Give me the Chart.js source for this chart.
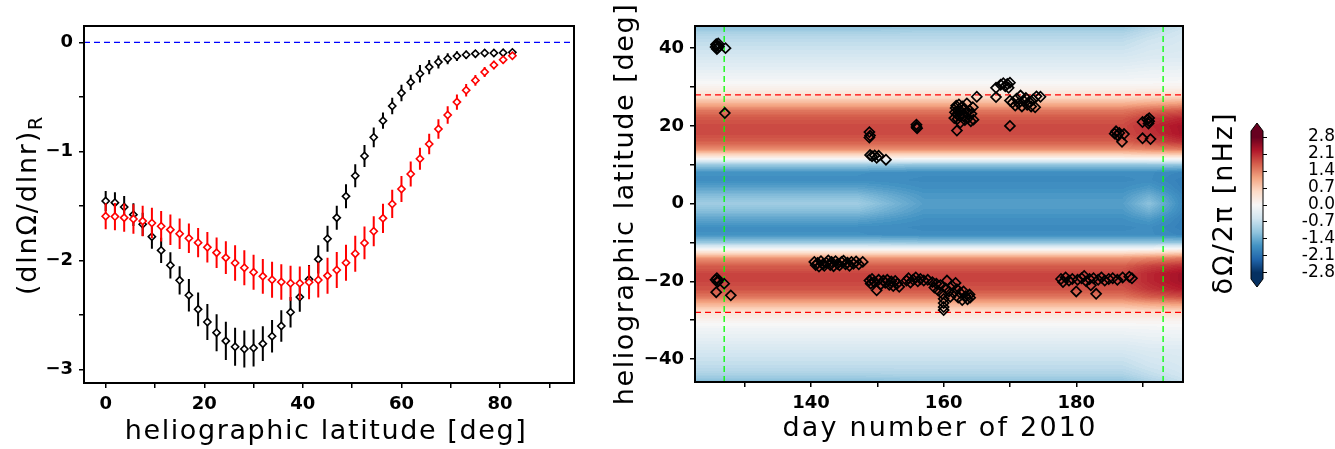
<!DOCTYPE html>
<html><head><meta charset="utf-8">
<script src="https://cdn.jsdelivr.net/npm/chart.js@4/dist/chart.umd.min.js"></script>
<style>
body{margin:0;background:#fff;width:1335px;height:449px;overflow:hidden;position:relative}
canvas{position:absolute;top:0}
</style></head><body>
<canvas id="c1" width="600" height="449" style="left:0"></canvas>
<canvas id="c2" width="600" height="449" style="left:600px"></canvas>
<canvas id="c3" width="135" height="449" style="left:1200px"></canvas>
<script>
// ---------- left panel data ----------
const latBins = [0,1.875,3.75,5.625,7.5,9.375,11.25,13.125,15,16.875,18.75,20.625,22.5,24.375,26.25,28.125,30,31.875,33.75,35.625,37.5,39.375,41.25,43.125,45,46.875,48.75,50.625,52.5,54.375,56.25,58.125,60,61.875,63.75,65.625,67.5,69.375,71.25,73.125,75,76.875,78.75,80.625,82.5];
const blackVals = [-1.456,-1.471,-1.511,-1.581,-1.670,-1.783,-1.909,-2.046,-2.184,-2.321,-2.450,-2.566,-2.664,-2.740,-2.793,-2.814,-2.805,-2.765,-2.697,-2.603,-2.477,-2.337,-2.174,-1.991,-1.802,-1.609,-1.413,-1.224,-1.043,-0.872,-0.719,-0.584,-0.465,-0.367,-0.288,-0.227,-0.181,-0.150,-0.126,-0.114,-0.104,-0.098,-0.098,-0.095,-0.092];
const blackErrs = [0.092,0.095,0.10,0.105,0.107,0.11,0.115,0.12,0.13,0.15,0.155,0.165,0.17,0.175,0.175,0.17,0.17,0.16,0.15,0.145,0.14,0.135,0.13,0.13,0.12,0.11,0.11,0.105,0.10,0.09,0.075,0.075,0.075,0.07,0.08,0.065,0.06,0.05,0.045,0.037,0.033,0.03,0.027,0.025,0.02];
const redVals = [-1.596,-1.599,-1.609,-1.621,-1.640,-1.658,-1.688,-1.719,-1.756,-1.798,-1.838,-1.881,-1.930,-1.976,-2.025,-2.068,-2.110,-2.147,-2.178,-2.199,-2.211,-2.211,-2.202,-2.181,-2.141,-2.089,-2.022,-1.939,-1.841,-1.734,-1.615,-1.483,-1.346,-1.208,-1.068,-0.933,-0.795,-0.667,-0.548,-0.440,-0.349,-0.272,-0.208,-0.160,-0.123];
const redErrs = [0.12,0.125,0.13,0.135,0.14,0.14,0.14,0.14,0.14,0.135,0.135,0.14,0.14,0.15,0.163,0.16,0.16,0.16,0.165,0.163,0.16,0.153,0.155,0.16,0.165,0.165,0.165,0.165,0.15,0.138,0.135,0.13,0.12,0.115,0.10,0.095,0.09,0.08,0.07,0.058,0.05,0.045,0.04,0.035,0.03];

// ---------- right panel data ----------
const fieldLats = [-46,-44,-42,-40,-38,-36,-34,-32,-30,-28,-26,-24,-22,-20,-18,-16,-14,-12,-10,-8,-6,-4,-2,0,2,4,6,8,10,12,14,16,18,20,22,24,26,28,30,32,34,36,38,40,42,44,46];
const profEarly = [-1.25,-0.9,-0.72,-0.62,-0.5,-0.36,-0.22,-0.08,0.1,0.4,0.95,1.5,1.78,1.88,1.88,1.7,1.25,0.15,-1.05,-1.7,-1.72,-1.5,-1.2,-1.0,-1.2,-1.5,-1.72,-1.7,-1.05,0.3,1.32,1.7,1.84,1.84,1.74,1.48,0.92,0.38,0.1,-0.08,-0.22,-0.36,-0.5,-0.62,-0.72,-0.9,-1.25];
const profLate = [-1.15,-0.88,-0.72,-0.62,-0.5,-0.36,-0.22,-0.08,0.1,0.4,0.95,1.5,1.78,1.88,1.88,1.7,1.25,0.15,-1.1,-1.75,-1.78,-1.72,-1.62,-1.55,-1.62,-1.72,-1.78,-1.75,-1.1,0.3,1.32,1.7,1.84,1.84,1.74,1.48,0.92,0.38,0.1,-0.08,-0.22,-0.36,-0.5,-0.62,-0.72,-0.88,-1.15];
const profEdge1 = [-0.9,-0.7,-0.58,-0.5,-0.42,-0.3,-0.18,-0.06,0.1,0.45,1.05,1.7,2.02,2.12,2.12,1.9,1.35,0.2,-1.1,-1.75,-1.75,-1.6,-1.35,-1.15,-1.35,-1.6,-1.75,-1.75,-1.1,0.35,1.4,1.85,2.02,2.08,1.95,1.62,1.0,0.42,0.1,-0.06,-0.18,-0.3,-0.42,-0.5,-0.58,-0.7,-0.9];
const profEdge2 = [-0.6,-0.5,-0.45,-0.42,-0.38,-0.28,-0.16,-0.05,0.1,0.5,1.15,1.85,2.25,2.4,2.4,2.1,1.5,0.3,-1.1,-1.85,-1.95,-1.95,-1.9,-1.9,-1.9,-1.95,-1.95,-1.85,-1.1,0.35,1.5,2.1,2.35,2.35,2.15,1.75,1.1,0.45,0.1,-0.05,-0.16,-0.28,-0.38,-0.42,-0.45,-0.5,-0.6];
const fieldDays = [122, 147, 157, 187, 191, 197];
const fieldColumns = [profEarly, profEarly, profLate, profLate, profEdge1, profEdge2];

const markerDays = [125.6,125.7,125.8,125.9,126.0,125.8,126.1,125.7,127.1,127.0,
125.6,125.8,125.9,126.0,125.7,126.9,127.9,
148.8,148.9,148.8,148.9,149.2,149.6,149.9,150.2,151.3,
155.9,155.9,156.0,
161.6,161.7,161.8,161.9,162.0,162.1,162.2,162.3,162.4,162.5,162.6,162.8,163.0,163.1,163.2,163.4,163.5,163.7,163.9,164.1,164.2,164.4,164.5,162.0,165.0,
167.9,167.9,168.6,169.0,169.3,169.6,170.0,169.8,170.0,170.0,170.4,170.8,171.0,171.3,171.6,171.8,172.1,172.4,172.6,172.9,173.2,173.5,173.8,174.0,174.6,
185.8,186.0,186.2,186.5,186.9,187.2,190.0,190.0,190.7,190.9,191.0,191.2,191.0,
140.5,140.7,141.0,141.2,141.5,141.8,142.0,142.3,142.6,142.9,143.1,143.4,143.7,144.0,144.3,144.6,144.9,145.2,145.5,145.8,146.1,146.4,146.8,147.2,147.8,
148.8,149.0,149.2,149.5,149.9,150.2,150.5,150.9,151.2,151.5,151.8,152.1,152.4,152.7,153.0,153.3,
154.4,154.7,155.0,155.4,155.8,156.1,156.5,157.0,157.6,
158.3,158.6,158.9,159.2,159.5,159.8,160.0,160.0,160.0,160.0,160.3,160.5,160.8,161.0,161.3,161.5,161.8,162.0,162.2,162.5,162.8,163.0,163.3,163.6,163.9,164.0,
177.7,178.0,178.4,178.9,179.4,180.0,180.2,180.8,181.2,181.5,182.0,182.2,182.6,183.0,183.3,183.8,184.3,184.9,185.5,186.2,187.0,188.0,188.4];
const markerLats = [40.3,41.0,40.6,40.0,41.2,39.8,40.4,40.9,40.0,23.3,
-19.6,-19.2,-20.2,-19.8,-22.8,-20.6,-23.6,
18.4,17.5,17.0,12.5,12.2,12.4,11.8,12.3,11.3,
20.3,19.7,19.4,
22.0,23.5,24.6,25.2,23.0,21.8,24.0,25.5,22.6,20.8,23.8,25.0,22.5,24.4,21.5,23.3,25.8,22.0,24.0,21.2,23.1,24.8,21.6,18.8,27.5,
29.8,27.4,30.6,31.0,30.2,30.8,31.1,29.8,26.5,20.0,26.0,25.2,27.0,25.8,27.8,25.0,26.4,27.2,25.4,26.2,25.0,26.8,24.8,27.6,27.5,
18.0,18.6,17.6,18.2,15.9,17.9,16.8,21.0,21.6,20.6,21.2,16.6,22.0,
-15.0,-15.8,-15.3,-16.2,-14.8,-15.6,-16.0,-15.2,-14.6,-15.8,-15.0,-16.1,-14.8,-15.5,-15.9,-15.0,-14.7,-15.6,-15.2,-16.0,-15.0,-15.5,-14.9,-15.6,-15.0,
-19.8,-20.6,-19.4,-20.2,-22.3,-19.6,-20.8,-19.8,-20.4,-19.6,-20.9,-20.0,-21.2,-19.9,-20.6,-21.4,
-19.8,-19.2,-20.3,-19.6,-19.0,-20.0,-19.4,-19.8,-19.6,
-20.2,-21.6,-20.6,-22.4,-21.0,-23.2,-24.5,-25.6,-26.6,-27.4,-21.8,-19.8,-22.6,-24.0,-21.2,-23.0,-20.4,-22.0,-24.2,-23.0,-24.8,-22.6,-23.8,-24.6,-23.4,-24.2,
-19.4,-20.2,-19.0,-19.8,-19.4,-22.6,-19.6,-19.2,-18.6,-20.0,-19.4,-21.0,-19.2,-23.2,-19.6,-19.0,-19.8,-19.4,-19.2,-19.6,-19.0,-18.8,-19.2];
const refLats = [28, -28];
const refDays = [126.9, 193.1];
const cbTicks = [-2.8,-2.1,-1.4,-0.7,0.0,0.7,1.4,2.1,2.8];

// ---------- helpers ----------
const RDBU_R = [[5,48,97],[33,102,172],[67,147,195],[146,197,222],[209,229,240],[247,247,247],[253,219,199],[244,165,130],[214,96,77],[178,24,43],[103,0,31]];
function cmap(v){
  let t = (v + 2.8) / 5.6; t = Math.max(0, Math.min(1, t));
  const p = t * 10, i = Math.min(9, Math.floor(p)), f = p - i;
  const a = RDBU_R[i], b = RDBU_R[i+1];
  return [a[0]+(b[0]-a[0])*f, a[1]+(b[1]-a[1])*f, a[2]+(b[2]-a[2])*f];
}
function clamp(v,a,b){return Math.max(a,Math.min(b,v));}
function fieldAt(day, lat){
  let k = 0; while (k < fieldDays.length-2 && day > fieldDays[k+1]) k++;
  const t = clamp((day-fieldDays[k])/(fieldDays[k+1]-fieldDays[k]),0,1);
  let r = 0; while (r < fieldLats.length-2 && lat > fieldLats[r+1]) r++;
  const s = clamp((lat-fieldLats[r])/(fieldLats[r+1]-fieldLats[r]),0,1);
  const A = fieldColumns[k], B = fieldColumns[k+1];
  const a = A[r]*(1-s)+A[r+1]*s, b = B[r]*(1-s)+B[r+1]*s;
  return a*(1-t)+b*t;
}
function errSegments(xs, ys, es){
  const out = [];
  for (let i=0;i<xs.length;i++){ out.push({x:xs[i],y:ys[i]-es[i]},{x:xs[i],y:ys[i]+es[i]},{x:xs[i],y:null}); }
  return out;
}
function pts(xs, ys){ return xs.map((x,i)=>({x, y:ys[i]})); }

const TICKFONT = {family:'DejaVu Sans', size:18, weight:'bold'};
const TITLEFONT = '27px "DejaVu Sans"';

const framePlugin = {
  id:'frame',
  afterDatasetsDraw(chart){
    const {ctx, chartArea:a} = chart;
    ctx.save(); ctx.strokeStyle='#000'; ctx.lineWidth=2;
    ctx.strokeRect(a.left, a.top, a.right-a.left, a.bottom-a.top);
    ctx.restore();
  }
};
function drawText(ctx, txt, x, y, rot, ls, font){
  ctx.save(); ctx.translate(x,y); ctx.rotate(rot);
  ctx.font = font || TITLEFONT; ctx.letterSpacing = (ls||0)+'px';
  ctx.fillStyle='#000'; ctx.textAlign='center'; ctx.textBaseline='alphabetic';
  ctx.fillText(txt,0,0); ctx.restore();
}

function axisCommon(min, max, step, labelFn, size){
  return {
    type:'linear', min, max,
    ticks:{stepSize:step, includeBounds:false, autoSkip:false, maxRotation:0, color:'#000', font:TICKFONT, padding:6, callback:labelFn},
    grid:{drawOnChartArea:false, drawTicks:true, tickLength:5, color:'#000', lineWidth:1.5},
    border:{display:false},
    afterFit(s){ if (s.isHorizontal()) s.height = size; else s.width = size; }
  };
}
const minus = v => v<0 ? '\u2212'+(-v) : String(v);

// ---------- left chart ----------
new Chart(document.getElementById('c1'), {
  type:'scatter',
  data:{datasets:[
    {type:'line', data:[{x:-4.4,y:0},{x:95,y:0}], borderColor:'#0000ff', borderWidth:1.2, borderDash:[6,4], pointRadius:0, order:6},
    {type:'line', data:errSegments(latBins, blackVals, blackErrs), borderColor:'#000', borderWidth:2, pointRadius:0, spanGaps:false, order:5},
    {data:pts(latBins, blackVals), pointStyle:'rectRot', radius:3.6, borderWidth:1.6, borderColor:'#000', backgroundColor:'#fff', order:4},
    {type:'line', data:errSegments(latBins, redVals, redErrs), borderColor:'#ff0000', borderWidth:2, pointRadius:0, spanGaps:false, order:3},
    {data:pts(latBins, redVals), pointStyle:'rectRot', radius:3.6, borderWidth:1.6, borderColor:'#ff0000', backgroundColor:'#fff', order:2}
  ]},
  options:{
    responsive:false, animation:false, events:[],
    layout:{padding:{left:0, top:26, right:26, bottom:0}},
    plugins:{legend:{display:false}, tooltip:{enabled:false}},
    scales:{
      x: axisCommon(-4.4, 95, 10, v => (Math.round(v)%20===0 ? String(v) : ''), 66),
      y: axisCommon(-3.126, 0.15, 0.5, v => (Number.isInteger(v) ? minus(v) : ''), 84)
    }
  },
  plugins:[framePlugin, {
    id:'titles1',
    afterDraw(chart){
      const ctx = chart.ctx;
      drawText(ctx, 'heliographic latitude [deg]', 326, 439, 0, 1.6);
      ctx.save(); ctx.translate(36, 205); ctx.rotate(-Math.PI/2);
      ctx.fillStyle='#000'; ctx.textBaseline='alphabetic'; ctx.letterSpacing='1.8px';
      ctx.font = TITLEFONT;
      const main = '(dln\u03A9/dlnr)';
      const w1 = ctx.measureText(main).width;
      ctx.font = '19px "DejaVu Sans"';
      const w2 = ctx.measureText('R').width;
      const x0 = -(w1+w2)/2;
      ctx.font = TITLEFONT; ctx.textAlign='left'; ctx.fillText(main, x0, 0);
      ctx.font = '19px "DejaVu Sans"'; ctx.fillText('R', x0+w1, 6);
      ctx.restore();
    }
  }]
});

// ---------- right chart ----------
const heatPlugin = {
  id:'heat',
  beforeDatasetsDraw(chart){
    const {ctx, chartArea:a, scales:{x, y}} = chart;
    const L = Math.round(a.left), T = Math.round(a.top);
    const w = Math.round(a.right)-L, h = Math.round(a.bottom)-T;
    const img = ctx.createImageData(w, h);
    const step = 0.056;
    for (let j=0;j<h;j++){
      const lat = y.getValueForPixel(T+j+0.5);
      for (let i=0;i<w;i++){
        const day = x.getValueForPixel(L+i+0.5);
        let v = fieldAt(day, lat);
        v = Math.round(v/step)*step;
        const c = cmap(v); const o = (j*w+i)*4;
        img.data[o]=c[0]; img.data[o+1]=c[1]; img.data[o+2]=c[2]; img.data[o+3]=255;
      }
    }
    ctx.putImageData(img, L, T);
  }
};
const xMin2 = 122.5, xMax2 = 196.1, yMin2 = -45.9, yMax2 = 45.7;
new Chart(document.getElementById('c2'), {
  type:'scatter',
  data:{datasets:[
    {data:pts(markerDays, markerLats), pointStyle:'rectRot', radius:5, borderWidth:1.7, borderColor:'#000', backgroundColor:'rgba(0,0,0,0)', order:1},
    {type:'line', data:[{x:xMin2,y:refLats[0]},{x:xMax2,y:refLats[0]}], borderColor:'#ff0000', borderWidth:1.3, borderDash:[6,4], pointRadius:0, order:2},
    {type:'line', data:[{x:xMin2,y:refLats[1]},{x:xMax2,y:refLats[1]}], borderColor:'#ff0000', borderWidth:1.3, borderDash:[6,4], pointRadius:0, order:2},
    {type:'line', data:[{x:refDays[0],y:yMin2},{x:refDays[0],y:yMax2}], borderColor:'#00ff00', borderWidth:1.3, borderDash:[6,4], pointRadius:0, order:3},
    {type:'line', data:[{x:refDays[1],y:yMin2},{x:refDays[1],y:yMax2}], borderColor:'#00ff00', borderWidth:1.3, borderDash:[6,4], pointRadius:0, order:3}
  ]},
  options:{
    responsive:false, animation:false, events:[],
    layout:{padding:{left:0, top:26, right:17, bottom:0}},
    plugins:{legend:{display:false}, tooltip:{enabled:false}},
    scales:{
      x: axisCommon(xMin2, xMax2, 10, v => (Math.round(v)%20===0 ? String(v) : ''), 67),
      y: axisCommon(yMin2, yMax2, 10, v => (Math.round(v)%20===0 ? minus(v) : ''), 95)
    }
  },
  plugins:[heatPlugin, framePlugin, {
    id:'titles2',
    afterDraw(chart){
      const ctx = chart.ctx;
      drawText(ctx, 'day number of 2010', 340, 436, 0, 2.2);
      drawText(ctx, 'heliographic latitude [deg]', 33, 204, -Math.PI/2, 1.6);
    }
  }]
});

// ---------- colorbar ----------
const cbPlugin = {
  id:'cb',
  beforeDatasetsDraw(chart){
    const {ctx, chartArea:a, scales:{y}} = chart;
    const L=a.left, R=a.right, T=Math.round(a.top), B=Math.round(a.bottom);
    for (let py=T; py<B; py++){
      const v = y.getValueForPixel(py+0.5);
      const c = cmap(v);
      ctx.fillStyle = `rgb(${c[0]|0},${c[1]|0},${c[2]|0})`;
      ctx.fillRect(L, py, R-L, 1);
    }
    const mid = (L+R)/2, tri = 8;
    ctx.fillStyle = 'rgb(103,0,31)';
    ctx.beginPath(); ctx.moveTo(L,T); ctx.lineTo(mid,T-tri); ctx.lineTo(R,T); ctx.closePath(); ctx.fill();
    ctx.fillStyle = 'rgb(5,48,97)';
    ctx.beginPath(); ctx.moveTo(L,B); ctx.lineTo(mid,B+tri); ctx.lineTo(R,B); ctx.closePath(); ctx.fill();
    ctx.strokeStyle='#000'; ctx.lineWidth=1;
    ctx.beginPath(); ctx.moveTo(L,T); ctx.lineTo(mid,T-tri); ctx.lineTo(R,T); ctx.lineTo(R,B); ctx.lineTo(mid,B+tri); ctx.lineTo(L,B); ctx.closePath(); ctx.stroke();
  },
  afterDraw(chart){
    drawText(chart.ctx, '\u03B4\u03A9/2\u03C0 [nHz]', 32, 203, -Math.PI/2, 2);
  }
};
new Chart(document.getElementById('c3'), {
  type:'scatter',
  data:{datasets:[{data:[]}]},
  options:{
    responsive:false, animation:false, events:[],
    layout:{padding:{left:51, top:131, right:0, bottom:170}},
    plugins:{legend:{display:false}, tooltip:{enabled:false}},
    scales:{
      x:{display:false, min:0, max:1},
      y:{type:'linear', position:'right', min:-3.05, max:3.05,
         afterBuildTicks(s){ s.ticks = cbTicks.map(v=>({value:v})); },
         ticks:{color:'#000', font:{family:'DejaVu Sans', size:17}, padding:10, crossAlign:'far', autoSkip:false,
                callback:v => v.toFixed(1)},
         grid:{drawOnChartArea:false, drawTicks:true, tickLength:4, color:'#000', lineWidth:1},
         border:{display:false},
         afterFit(s){ s.width = 72; }}
    }
  },
  plugins:[cbPlugin]
});
</script>
</body></html>
